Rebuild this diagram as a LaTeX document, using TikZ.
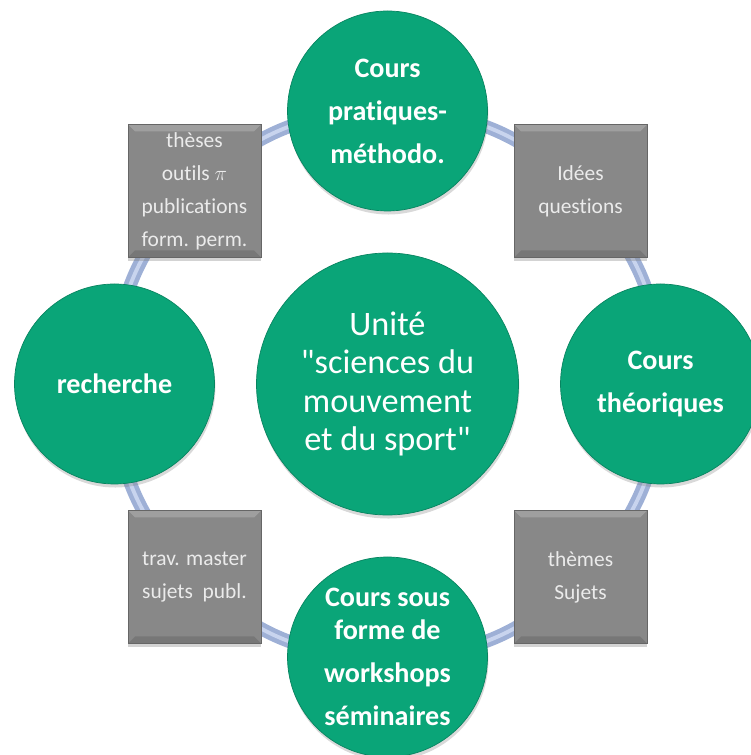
\documentclass[tikz,border=0pt]{standalone}
\usepackage{fontspec}
\setmainfont{Carlito}[Ligatures={TeXOff,NoCommon}]
\usetikzlibrary{backgrounds,shadows}
\definecolor{vert}{RGB}{10,165,120}
\definecolor{gris}{RGB}{136,136,136}
\definecolor{anneau}{RGB}{158,176,214}
\definecolor{reflet}{RGB}{200,212,238}
\begin{document}
\begin{tikzpicture}[
		rond/.style={circle, fill=vert, draw=vert!80!black, minimum size=4cm, inner sep=0pt,
			align=center, text=white, font=\bfseries\fontsize{16}{24.5}\selectfont,
			drop shadow={opacity=.3, shadow xshift=.5pt, shadow yshift=-2pt}},
		centre/.style={rond, minimum size=5.24cm, font=\fontsize{19.5}{21.8}\selectfont},
		carre/.style={rectangle, fill=gris, draw=gris!75!black, minimum size=2.66cm, inner sep=0pt,
			align=center, text=white!92!black, font=\fontsize{12.2}{18.8}\selectfont,
			drop shadow={opacity=.35, shadow xshift=0pt, shadow yshift=-2pt},
			path picture={
				\fill[white, opacity=.2] (path picture bounding box.north west) -- (path picture bounding box.north east)
					-- ++(-.14,-.14) -- ([shift={(.14,-.14)}]path picture bounding box.north west) -- cycle;
				\fill[black, opacity=.12] (path picture bounding box.south west) -- (path picture bounding box.south east)
					-- ++(-.14,.14) -- ([shift={(.14,.14)}]path picture bounding box.south west) -- cycle;}},
		anneaulig/.style={line width=7.5pt, draw=anneau, line cap=round},
		refletlig/.style={line width=2.2pt, draw=reflet}]
	\useasboundingbox (0,0) rectangle (15.02,15.10);
	% les cercles
	\node[centre] (unite) at (7.75,7.42) {Unité\\"sciences du\\mouvement\\et du sport"};
	\node[rond] (pratique) at (7.75,12.88) {Cours\\pratiques-\\méthodo.};
	\node[rond] (theorie) at (13.21,7.42) {Cours\\théoriques};
	\node[rond] (workshop) at (7.75,1.96) {Cours sous\\[-6pt]forme de\\workshops\\séminaires};
	\node[rond] (recherche) at (2.29,7.42) {recherche};
	% les carres
	\node[carre] (idees) at (11.61,11.28) {Idées\\questions};
	\node[carre] (themes) at (11.61,3.56) {thèmes\\Sujets};
	\node[carre] (travaux) at (3.89,3.56) {trav. master\\sujets\ \ publ.};
	\node[carre] (theses) at (3.89,11.28) {thèses\\outils $\pi$\\publications\\form. perm.};
	% l'anneau
	\begin{scope}[on background layer]
		\draw[anneaulig] (pratique.center) to[bend left=22.5] (idees.center);
		\draw[anneaulig] (idees.center) to[bend left=22.5] (theorie.center);
		\draw[anneaulig] (theorie.center) to[bend left=22.5] (themes.center);
		\draw[anneaulig] (themes.center) to[bend left=22.5] (workshop.center);
		\draw[anneaulig] (workshop.center) to[bend left=22.5] (travaux.center);
		\draw[anneaulig] (travaux.center) to[bend left=22.5] (recherche.center);
		\draw[anneaulig] (recherche.center) to[bend left=22.5] (theses.center);
		\draw[anneaulig] (theses.center) to[bend left=22.5] (pratique.center);
		\draw[refletlig] (pratique.center) to[bend left=22.5] (idees.center);
		\draw[refletlig] (idees.center) to[bend left=22.5] (theorie.center);
		\draw[refletlig] (theorie.center) to[bend left=22.5] (themes.center);
		\draw[refletlig] (themes.center) to[bend left=22.5] (workshop.center);
		\draw[refletlig] (workshop.center) to[bend left=22.5] (travaux.center);
		\draw[refletlig] (travaux.center) to[bend left=22.5] (recherche.center);
		\draw[refletlig] (recherche.center) to[bend left=22.5] (theses.center);
		\draw[refletlig] (theses.center) to[bend left=22.5] (pratique.center);
	\end{scope}
\end{tikzpicture}
\end{document}
